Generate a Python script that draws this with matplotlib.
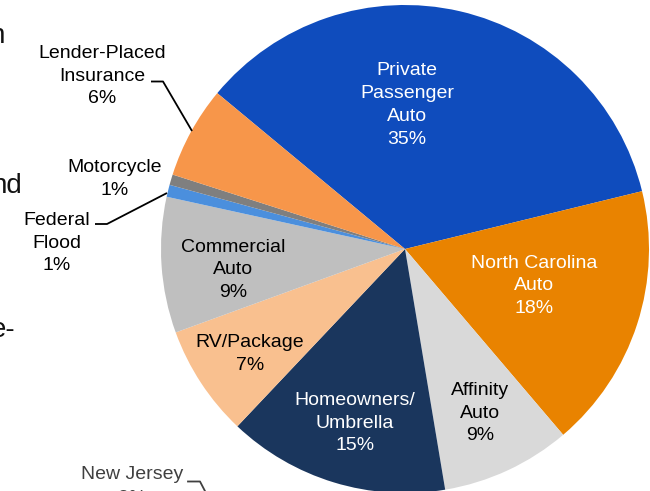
import matplotlib
matplotlib.use("Agg")
import matplotlib.pyplot as plt

plt.rcParams['font.family'] = ['Liberation Sans', 'DejaVu Sans']

# ---- data (clockwise from the top) ----
categories = ["Private\nPassenger\nAuto", "North Carolina\nAuto", "Affinity\nAuto",
              "Homeowners/\nUmbrella", "RV/Package", "Commercial\nAuto",
              "Federal\nFlood", "Motorcycle", "Lender-Placed\nInsurance"]
shares = [35.2, 17.6, 8.6, 14.7, 7.4, 9.0, 0.8, 0.7, 6.1]
colors = ["#0F4CBD", "#E98300", "#D9D9D9", "#1A365D", "#F9C08F",
          "#BFBFBF", "#4B8FDD", "#7F7F7F", "#F7964A"]
text_colors = ["white", "white", "black", "white", "black",
               "black", "black", "black", "black"]

# label centres (pixel layout, x, y-from-top)
label_pos = [(407, 105), (534, 286), (480, 413), (355, 423), (250, 354),
             (233, 270), (57, 243), (115, 179), (102, 76)]

other_label = "New Jersey"
other_pct = 2

W, H = 650, 491
fig = plt.figure(figsize=(W / 100, H / 100), dpi=100)
ax = fig.add_axes([0, 0, 1, 1])

def Y(y):
    return H - y

ax.pie(shares, colors=colors, startangle=140.3, counterclock=False,
       center=(405, Y(249)), radius=244, frame=True,
       wedgeprops=dict(linewidth=0))

for cat, v, (x, y), tc in zip(categories, shares, label_pos, text_colors):
    ax.text(x, Y(y), f"{cat}\n{v:.0f}%", ha="center", va="center",
            color=tc, fontsize=14, linespacing=1.46)

# leader lines
lc = dict(color="black", lw=1.3, solid_capstyle="butt")
ax.plot([151, 163, 192], [Y(81.5), Y(81.5), Y(131)], **lc)
ax.plot([95, 107, 167], [Y(224), Y(224), Y(193)], **lc)
ax.plot([188, 200, 206], [Y(481.5), Y(481.5), Y(493)], color="#404040", lw=1.3)

# New Jersey label (second line cut by the bottom edge)
ax.text(132, Y(479), other_label, ha="center", va="baseline",
        color="#404040", fontsize=14)
ax.text(132, Y(503), f"{other_pct}%", ha="center", va="baseline",
        color="#404040", fontsize=14)

# fragments of neighbouring slide text at the left edge
for s, xr, yb in [("n", 5, 43), ("nd", 22, 193), ("e-", 15, 337)]:
    ax.text(xr, Y(yb), s, ha="right", va="baseline", fontsize=20, color="#111111")

ax.set_xlim(0, W)
ax.set_ylim(0, H)
ax.set_aspect("equal")
ax.axis("off")
fig.savefig("out.png", dpi=100)
